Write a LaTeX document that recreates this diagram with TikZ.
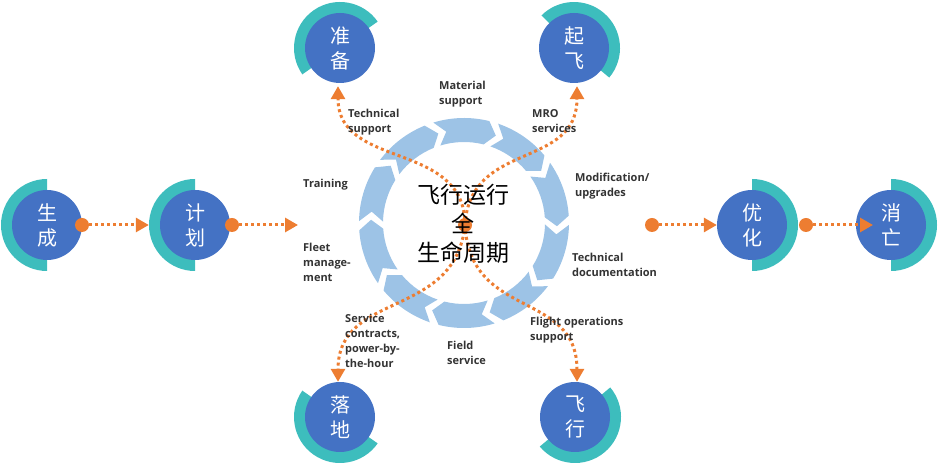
\documentclass[tikz,border=0pt]{standalone}
\usepackage{fontspec}
\newfontfamily\cjk{Noto Sans CJK SC}
\newfontfamily\lab{Open Sans}
\usetikzlibrary{arrows.meta}
\definecolor{stblue}{HTML}{4472C4}
\definecolor{stteal}{HTML}{3DBDBD}
\definecolor{ringblue}{HTML}{9DC3E6}
\definecolor{orng}{HTML}{ED7D31}
\definecolor{labgray}{HTML}{333333}
\tikzset{
 stationnode/.style={circle, fill=stblue, minimum size=70pt, inner sep=0pt, text=white, font=\cjk\fontsize{20}{25}\selectfont, align=center},
 odot/.style={circle, fill=orng, minimum size=14pt, inner sep=0pt},
 dotline/.style={draw=orng, line width=3pt, dash pattern=on 3pt off 3pt, -{Triangle[length=13pt,width=14pt,fill=orng]}},
 lbl/.style={anchor=base west, inner sep=0pt, align=left, text=labgray, font=\lab\bfseries\fontsize{11}{15}\selectfont},
 titlefont/.style={font=\cjk\fontsize{23}{29}\selectfont, align=center, inner sep=0pt},
}
\newcommand\drawstation[6]{%
 \fill[stteal] (#2,#3) -- ++(#4:46) arc[start angle=#4, end angle=#5, radius=46] -- cycle;
 \node[stationnode] (#1) at (#2,#3) {#6};
}
\begin{document}
\begin{tikzpicture}[x=1pt,y=1pt]
\useasboundingbox (0,0) rectangle (939,465);
% ring of chevron segments
\foreach \k in {0,...,9}{
 \pgfmathsetmacro\ta{90-36*\k+17}
 \pgfmathsetmacro\tb{90-36*\k-14}
 \pgfmathsetmacro\tc{90-36*\k-20}
 \pgfmathsetmacro\td{90-36*\k+11}
 \fill[ringblue, shift={(464,242)}] (\ta:105) arc[start angle=\ta, end angle=\tb, radius=105] -- (\tc:93) -- (\tb:81) arc[start angle=\tb, end angle=\ta, radius=81] -- (\td:93) -- cycle;
}
% stations
\drawstation{sc}{47}{240}{90}{270}{生\\成}
\drawstation{jh}{195}{240}{90}{270}{计\\划}
\drawstation{zb}{340}{417}{35}{215}{准\\备}
\drawstation{qf}{574}{417}{-40}{135}{起\\飞}
\drawstation{ld}{340}{48}{145}{325}{落\\地}
\drawstation{fx}{575}{48}{-140}{40}{飞\\行}
\drawstation{yh}{752}{240}{-90}{90}{优\\化}
\drawstation{xw}{891}{240}{-90}{90}{消\\亡}
% center dot and curves
\coordinate (cc) at (465,240);
\draw[dotline, shorten >=3pt] (cc) .. controls (465,325) and (338,295) .. ([xshift=-2pt]zb.south);
\draw[dotline, shorten >=3pt] (cc) .. controls (470,325) and (577,295) .. ([xshift=3pt]qf.south);
\draw[dotline] (cc) .. controls (455,145) and (338,175) .. ([xshift=-2pt]ld.north);
\draw[dotline] (cc) .. controls (470,145) and (577,175) .. ([xshift=2pt]fx.north);
\node[odot] (cd) at (cc) {};
% horizontal connectors
\node[odot] (d1) at (82,240) {};
\node[odot] (d2) at (232,240) {};
\node[odot] (d3) at (652,240) {};
\node[odot] (d4) at (806,240) {};
\coordinate (e2) at (298,240);
\draw[dotline, shorten >=11pt] (d1) -- (jh);
\draw[dotline] (d2) -- (e2);
\draw[dotline] (d3) -- (yh);
\draw[dotline, shorten >=18pt] (d4) -- (xw.center);
% title
\node[titlefont] (title) at (463,241) {飞行运行\\全\\生命周期};
% labels (anchor = baseline of last line)
\node[lbl] (l1) at (439,360) {Material\\support};
\node[lbl] (l2) at (348,332) {Technical\\support};
\node[lbl] (l3) at (532,332) {MRO\\services};
\node[lbl] (l4) at (303,277.5) {Training};
\node[lbl] (l5) at (303,183) {Fleet\\manage-\\ment};
\node[lbl] (l6) at (575,268.5) {Modification/\\upgrades};
\node[lbl] (l7) at (572,188) {Technical\\documentation};
\node[lbl] (l8) at (345,97) {Service\\contracts,\\power-by-\\the-hour};
\node[lbl] (l9) at (447,100) {Field\\service};
\node[lbl] (l10) at (530,124) {Flight operations\\support};
\end{tikzpicture}
\end{document}
